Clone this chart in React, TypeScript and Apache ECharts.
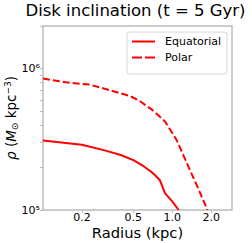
import React, { useEffect, useRef } from "react";
import * as echarts from "echarts";

const titleText = "Disk inclination (t = 5 Gyr)";
const xName = "Radius (kpc)";
const seriesNames = ["Equatorial", "Polar"];

const radiusEq = [0.1, 0.15, 0.2, 0.3, 0.4, 0.5, 0.6, 0.7, 0.8, 0.88, 1.0, 1.12];
const rhoEq = [3.1e5, 2.98e5, 2.89e5, 2.64e5, 2.45e5, 2.25e5, 2.04e5, 1.84e5, 1.63e5, 1.31e5, 1.15e5, 1.0e5];

const radiusPo = [0.1, 0.15, 0.23, 0.3, 0.47, 0.56, 0.7, 0.88, 1.08, 1.37, 1.6, 1.83, 1.86];
const rhoPo = [8.5e5, 8.0e5, 7.7e5, 7.2e5, 6.4e5, 5.9e5, 5.1e5, 4.23e5, 3.13e5, 1.92e5, 1.4e5, 1.05e5, 1.0e5];

const xTickValues = [0.2, 0.5, 1.0, 2.0];
const yLabelValues = [1e5, 1e6];
const yTickValues = [1e5, 2e5, 3e5, 4e5, 5e5, 6e5, 7e5, 8e5, 9e5, 1e6, 2e6];

const FONT = "DejaVu Sans";
const RED = "#ff0000";
const SPINE = "#bcbcbc";
const sup: Record<string, string> = { "5": "⁵", "6": "⁶" };

const SOLID_ICON = "path://M0,0H23V2H0Z";
const DASH_ICON = "path://M0,0H10V2H0Z M13,0H23V2H13Z";

export default function App() {
  const ref = useRef<HTMLDivElement>(null);
  useEffect(() => {
    if (!ref.current) return;
    const chart = echarts.init(ref.current, undefined, { renderer: "svg" });
    chart.setOption({
      animation: false,
      backgroundColor: "#ffffff",
      title: {
        text: titleText,
        left: 135.5,
        top: 2,
        textAlign: "center",
        padding: 0,
        textStyle: { fontFamily: FONT, fontSize: 16.5, fontWeight: "normal", color: "#000" },
      },
      legend: {
        orient: "vertical",
        left: 127,
        top: 32,
        padding: [4, 6, 11, 5],
        itemGap: 5,
        itemWidth: 23,
        itemHeight: 2,
        backgroundColor: "#ffffff",
        borderColor: "#d6d6d6",
        borderWidth: 1,
        borderRadius: 3,
        data: [
          { name: seriesNames[0], icon: SOLID_ICON },
          { name: seriesNames[1], icon: DASH_ICON },
        ],
        textStyle: { fontFamily: FONT, fontSize: 11, color: "#000", padding: [0, 0, 0, 5] },
      },
      grid: {
        left: 43,
        right: 20,
        top: 26,
        bottom: 33,
        show: true,
        borderColor: SPINE,
        borderWidth: 1.5,
        outerBoundsMode: "none",
      },
      xAxis: {
        type: "log",
        min: 0.1,
        max: 2.9,
        name: xName,
        nameLocation: "middle",
        nameGap: 15,
        nameMoveOverlap: false,
        nameTextStyle: { fontFamily: FONT, fontSize: 14.7, color: "#000" },
        axisLine: { show: false },
        axisTick: { show: true, length: 3, inside: false, customValues: xTickValues, lineStyle: { color: SPINE, width: 1 } },
        axisLabel: {
          customValues: xTickValues,
          margin: 3,
          lineHeight: 9,
          fontFamily: FONT,
          fontSize: 11,
          color: "#000",
          formatter: (v: number) => v.toFixed(1),
        },
        splitLine: { show: false },
        minorTick: { show: false },
      },
      yAxis: {
        type: "log",
        min: 1e5,
        max: 2e6,
        name: "{i|ρ} ({i|M}{sub|⊙} kpc{sup|−3})",
        nameLocation: "middle",
        nameGap: 24,
        nameRotate: 90,
        nameMoveOverlap: false,
        nameTextStyle: {
          fontFamily: FONT,
          fontSize: 13.5,
          color: "#000",
          lineHeight: 16,
          rich: {
            i: { fontFamily: FONT, fontSize: 13.5, fontStyle: "italic", color: "#000", lineHeight: 16 },
            sub: { fontFamily: FONT, fontSize: 9, color: "#000", verticalAlign: "bottom", lineHeight: 10 },
            sup: { fontFamily: FONT, fontSize: 9, color: "#000", verticalAlign: "top", lineHeight: 10 },
          },
        },
        axisLine: { show: false },
        axisTick: { show: true, length: 3, inside: false, customValues: yTickValues, lineStyle: { color: SPINE, width: 1 } },
        axisLabel: {
          customValues: yLabelValues,
          margin: 3,
          fontFamily: FONT,
          fontSize: 11,
          color: "#000",
          formatter: (v: number) => {
            const e = Math.round(Math.log10(v));
            return "10" + (sup[String(e)] || String(e));
          },
        },
        splitLine: { show: false },
        minorTick: { show: false },
      },
      series: [
        {
          name: seriesNames[0],
          type: "line",
          data: radiusEq.map((r, i) => [r, rhoEq[i]]),
          symbol: "none",
          showSymbol: false,
          clip: true,
          lineStyle: { color: RED, width: 2, type: "solid" },
          itemStyle: { color: RED },
        },
        {
          name: seriesNames[1],
          type: "line",
          data: radiusPo.map((r, i) => [r, rhoPo[i]]),
          symbol: "none",
          showSymbol: false,
          clip: true,
          lineStyle: { color: RED, width: 2, type: [7, 3] },
          itemStyle: { color: RED },
        },
      ],
    });
    return () => chart.dispose();
  }, []);
  return (
    <div
      ref={ref}
      style={{ position: "absolute", left: 0, top: 0, width: 252, height: 243 }}
    />
  );
}
